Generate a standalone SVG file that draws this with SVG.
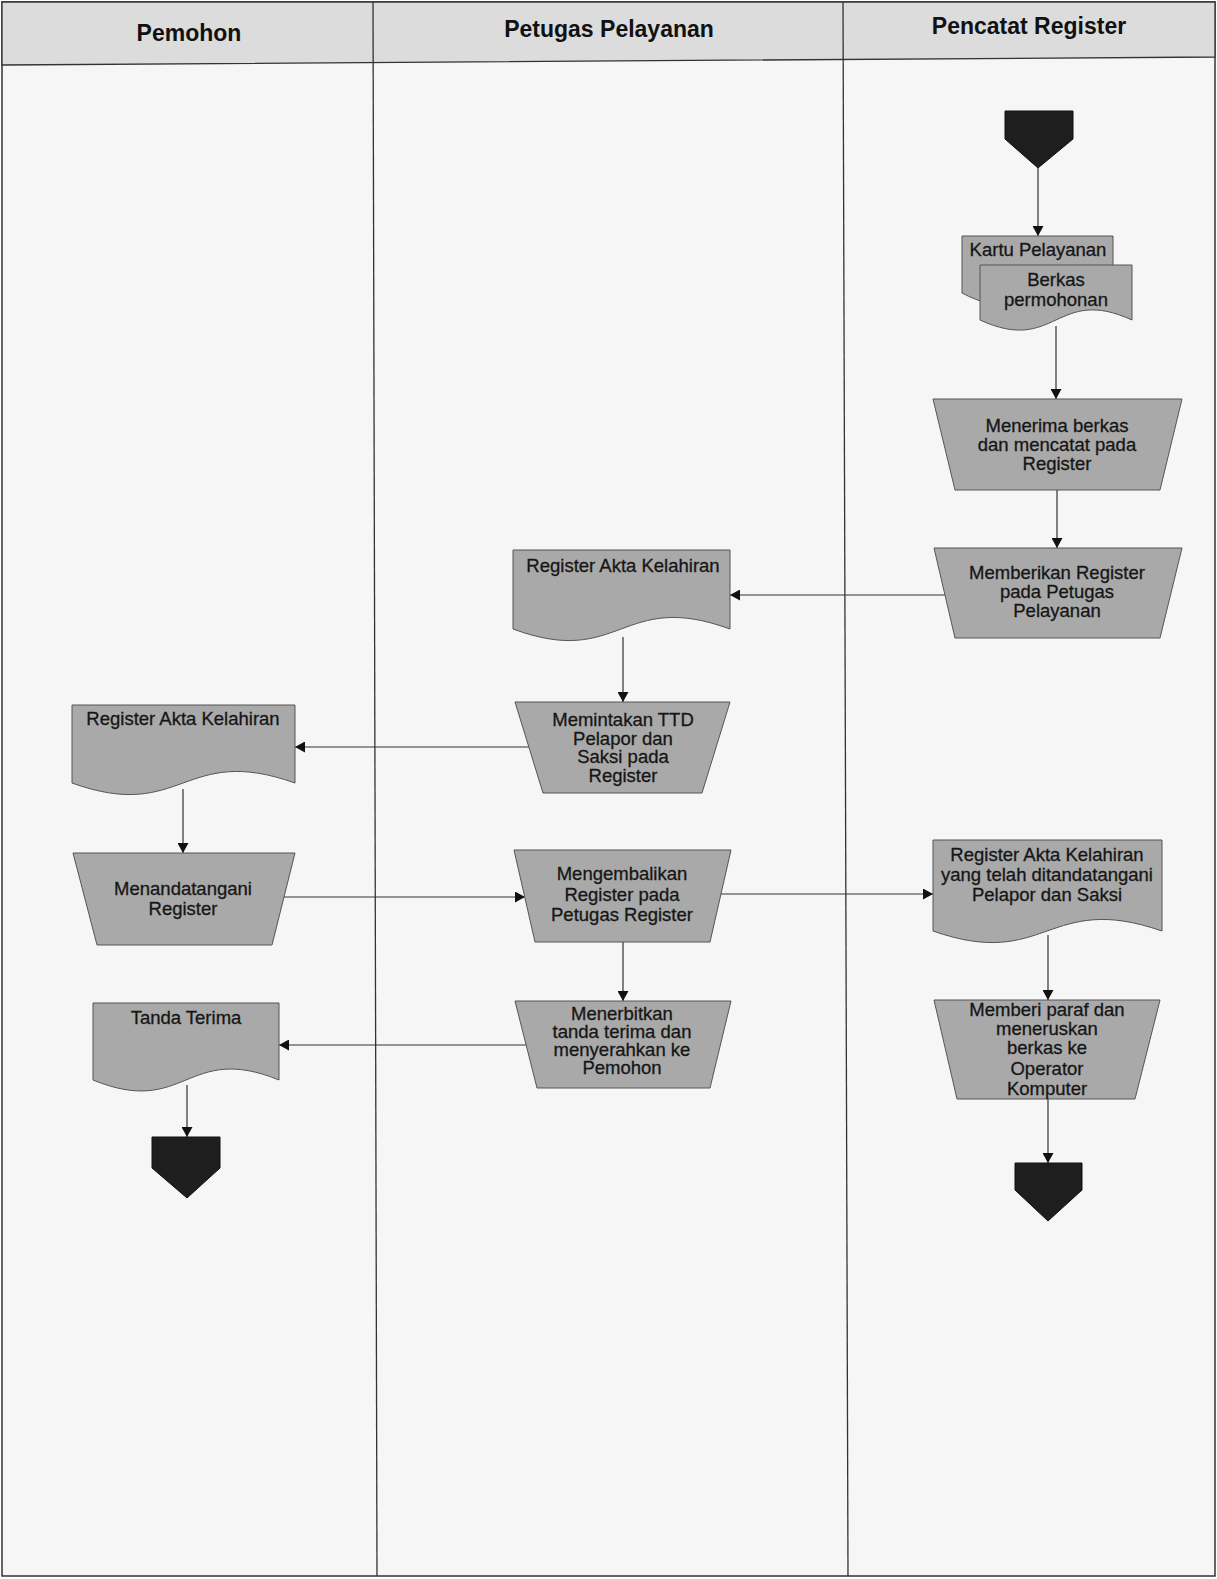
<svg xmlns="http://www.w3.org/2000/svg" width="1217" height="1579" viewBox="0 0 1217 1579">
<style>
.lane{fill:none;stroke:#333;stroke-width:1.3}
.hdr{font-family:"Liberation Sans",Arial,sans-serif;font-weight:bold;font-size:23px;fill:#111;text-anchor:middle}
.shape{fill:#a9a9a9;stroke:#555;stroke-width:1}
.term{fill:#1e1e1e;stroke:#111;stroke-width:1}
.t{font-family:"Liberation Sans",Arial,sans-serif;font-size:18.5px;fill:#161616;text-anchor:middle;stroke:#161616;stroke-width:0.3}
.conn{fill:none;stroke:#333;stroke-width:1.2;marker-end:url(#arr)}
</style>
<defs>
<marker id="arr" markerUnits="userSpaceOnUse" markerWidth="10" markerHeight="11" refX="10" refY="5.5" orient="auto">
<path d="M0,0 L10,5.5 L0,11 z" fill="#111"/>
</marker>
</defs>
<rect x="0" y="0" width="1217" height="1579" fill="#ffffff"/>
<g id="lanes">
<rect x="2" y="2" width="1213" height="1574" fill="#f6f6f6" stroke="#333" stroke-width="1.5"/>
<path d="M2,2 H1215 V57 L2,65 Z" fill="#dcdcdc" stroke="#333" stroke-width="1.3"/>
<line class="lane" x1="373" y1="2" x2="377" y2="1576"/>
<line class="lane" x1="843" y1="2" x2="848" y2="1576"/>
<text class="hdr" x="189" y="41">Pemohon</text>
<text class="hdr" x="609" y="37">Petugas Pelayanan</text>
<text class="hdr" x="1029" y="34">Pencatat Register</text>
</g>
<g id="connectors">
<line class="conn" x1="1038" y1="168" x2="1038" y2="236"/>
<line class="conn" x1="1056" y1="326" x2="1056" y2="399"/>
<line class="conn" x1="1057" y1="490" x2="1057" y2="548"/>
<line class="conn" x1="945" y1="595" x2="730" y2="595"/>
<line class="conn" x1="623" y1="637" x2="623" y2="702"/>
<line class="conn" x1="529" y1="747" x2="295" y2="747"/>
<line class="conn" x1="183" y1="789" x2="183" y2="853"/>
<line class="conn" x1="284" y1="897" x2="525" y2="897"/>
<line class="conn" x1="721" y1="894" x2="933" y2="894"/>
<line class="conn" x1="623" y1="942" x2="623" y2="1001"/>
<line class="conn" x1="526" y1="1045" x2="279" y2="1045"/>
<line class="conn" x1="1048" y1="935" x2="1048" y2="1000"/>
<line class="conn" x1="1048" y1="1099" x2="1048" y2="1163"/>
<line class="conn" x1="187" y1="1085" x2="187" y2="1137"/>
</g>
<g id="start">
<path class="term" d="M1005,111 H1073 V139 L1038,168 L1005,139 Z"/>
</g>
<g id="kartu-pelayanan">
<path class="shape" d="M962,236 H1113 V293 C1037,253 1037,333 962,293 Z"/>
<text class="t" x="1038" y="256">Kartu Pelayanan</text>
</g>
<g id="berkas-permohonan">
<path class="shape" d="M980,265 H1132 V320 C1056,285 1056,355 980,320 Z"/>
<text class="t" x="1056" y="286">Berkas</text>
<text class="t" x="1056" y="306">permohonan</text>
</g>
<g id="menerima-berkas">
<path class="shape" d="M933,399 H1182 L1160,490 H955 Z"/>
<text class="t" x="1057" y="432">Menerima berkas</text>
<text class="t" x="1057" y="451">dan mencatat pada</text>
<text class="t" x="1057" y="470">Register</text>
</g>
<g id="memberikan-register">
<path class="shape" d="M934,548 H1182 L1160,638 H955 Z"/>
<text class="t" x="1057" y="579">Memberikan Register</text>
<text class="t" x="1057" y="598">pada Petugas</text>
<text class="t" x="1057" y="617">Pelayanan</text>
</g>
<g id="register-petugas">
<path class="shape" d="M513,550 H730 V629 C621,589 621,669 513,629 Z"/>
<text class="t" x="623" y="572">Register Akta Kelahiran</text>
</g>
<g id="memintakan-ttd">
<path class="shape" d="M515,702 H730 L702,793 H543 Z"/>
<text class="t" x="623" y="726">Memintakan TTD</text>
<text class="t" x="623" y="745">Pelapor dan</text>
<text class="t" x="623" y="763">Saksi pada</text>
<text class="t" x="623" y="782">Register</text>
</g>
<g id="register-pemohon">
<path class="shape" d="M72,705 H295 V783 C183,743 183,823 72,783 Z"/>
<text class="t" x="183" y="725">Register Akta Kelahiran</text>
</g>
<g id="menandatangani">
<path class="shape" d="M73,853 H295 L272,945 H97 Z"/>
<text class="t" x="183" y="895">Menandatangani</text>
<text class="t" x="183" y="915">Register</text>
</g>
<g id="mengembalikan">
<path class="shape" d="M514,850 H731 L710,942 H535 Z"/>
<text class="t" x="622" y="880">Mengembalikan</text>
<text class="t" x="622" y="901">Register pada</text>
<text class="t" x="622" y="921">Petugas Register</text>
</g>
<g id="register-ditandatangani">
<path class="shape" d="M933,840 H1162 V931 C1047,891 1047,971 933,931 Z"/>
<text class="t" x="1047" y="861">Register Akta Kelahiran</text>
<text class="t" x="1047" y="881">yang telah ditandatangani</text>
<text class="t" x="1047" y="901">Pelapor dan Saksi</text>
</g>
<g id="menerbitkan">
<path class="shape" d="M515,1001 H731 L710,1088 H537 Z"/>
<text class="t" x="622" y="1020">Menerbitkan</text>
<text class="t" x="622" y="1038">tanda terima dan</text>
<text class="t" x="622" y="1056">menyerahkan ke</text>
<text class="t" x="622" y="1074">Pemohon</text>
</g>
<g id="memberi-paraf">
<path class="shape" d="M934,1000 H1160 L1135,1099 H957 Z"/>
<text class="t" x="1047" y="1016">Memberi paraf dan</text>
<text class="t" x="1047" y="1035">meneruskan</text>
<text class="t" x="1047" y="1054">berkas ke</text>
<text class="t" x="1047" y="1075">Operator</text>
<text class="t" x="1047" y="1095">Komputer</text>
</g>
<g id="tanda-terima">
<path class="shape" d="M93,1003 H279 V1080 C186,1042 186,1118 93,1080 Z"/>
<text class="t" x="186" y="1024">Tanda Terima</text>
</g>
<g id="end-pemohon">
<path class="term" d="M152,1137 H220 V1168 L187,1198 L152,1168 Z"/>
</g>
<g id="end-pencatat">
<path class="term" d="M1015,1163 H1082 V1190 L1048,1221 L1015,1190 Z"/>
</g>
</svg>
